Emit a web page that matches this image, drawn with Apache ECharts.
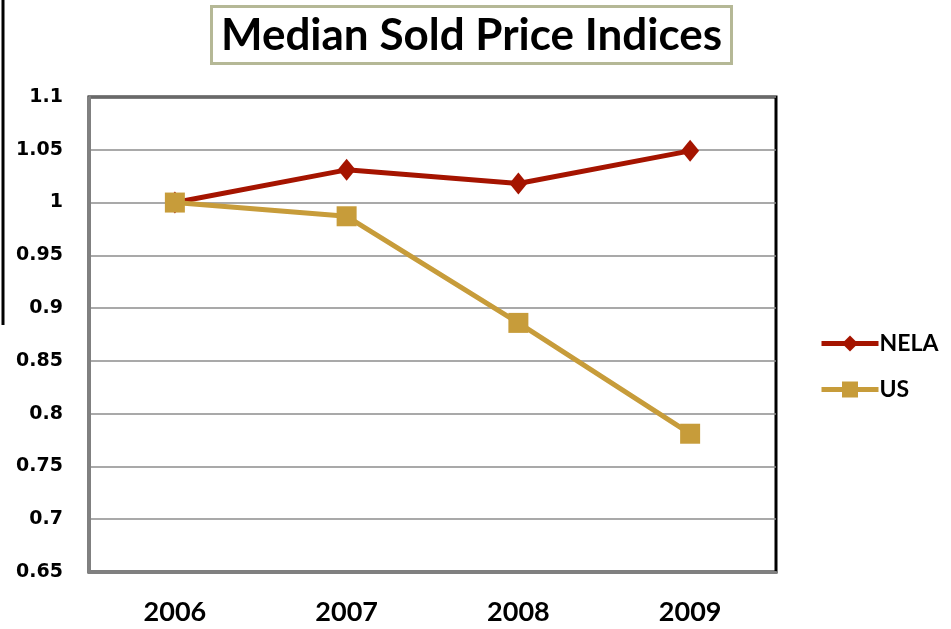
<!DOCTYPE html>
<html>
<head>
<meta charset="utf-8">
<script src="https://cdn.jsdelivr.net/npm/echarts@6/dist/echarts.min.js"></script>
<style>
  html, body {margin: 0; padding: 0; background: #fff;}
  #chart {width: 951px; height: 629px;}
</style>
</head>
<body>
<div id="chart"></div>
<script>
// 数据
var years = ['2006', '2007', '2008', '2009'];
var nela = [1.0, 1.031, 1.018, 1.049];
var us = [1.0, 0.987, 0.886, 0.781];

var chart = echarts.init(document.getElementById('chart'));

var option = {
    backgroundColor: '#fff',
    textStyle: {fontFamily: 'Lato'},
    title: {
        text: 'Median Sold Price Indices',
        left: 211,
        top: 6,
        padding: [7, 10, 5, 10],
        borderColor: '#b5b896',
        borderWidth: 3,
        textStyle: {fontSize: 44, fontWeight: 'bold', color: '#000', fontFamily: 'Lato', lineHeight: 46}
    },
    graphic: [
        {type: 'line', shape: {x1: 3, y1: 0, x2: 3, y2: 325}, style: {stroke: '#000', lineWidth: 3}},
        {type: 'rect', shape: {x: 89, y: 97, width: 687, height: 475}, style: {fill: null, stroke: '#000', lineWidth: 3}, z: -1}
    ],
    legend: {
        orient: 'vertical',
        left: 814,
        top: 327,
        itemWidth: 57,
        itemHeight: 20,
        itemGap: 23,
        lineStyle: {width: 5},
        textStyle: {fontSize: 23, fontWeight: 'bold', color: '#000', padding: [0, 0, 0, -4]},
        data: ['NELA', 'US']
    },
    grid: {left: 89, right: 175, top: 97, bottom: 57},
    xAxis: {
        type: 'category',
        data: years,
        axisLine: {lineStyle: {color: '#808080', width: 3}},
        axisTick: {show: false},
        axisLabel: {margin: 27, fontSize: 27, fontWeight: 'bold', color: '#000'}
    },
    yAxis: {
        type: 'value',
        min: 0.65,
        max: 1.1,
        interval: 0.05,
        axisLine: {show: true, lineStyle: {color: '#808080', width: 3}},
        axisTick: {show: false},
        axisLabel: {margin: 26, fontSize: 19, fontWeight: 'bold', color: '#000', fontFamily: 'DejaVu Sans',
            formatter: function (v) { return String(+v.toFixed(2)); }},
        splitLine: {lineStyle: {color: '#8c8c8c', width: 1.5}}
    },
    series: [
        {
            name: 'NELA',
            type: 'line',
            data: nela,
            symbol: 'diamond',
            symbolSize: [18, 22],
            itemStyle: {color: '#a51400'},
            lineStyle: {width: 5, color: '#a51400'},
            z: 3
        },
        {
            name: 'US',
            type: 'line',
            data: us,
            symbol: 'rect',
            symbolSize: 20,
            itemStyle: {color: '#c79c3a'},
            lineStyle: {width: 5, color: '#c79c3a'},
            z: 4
        }
    ]
};

chart.setOption(option);

window.onresize = function () {
    chart.resize();
};
</script>
</body>
</html>
